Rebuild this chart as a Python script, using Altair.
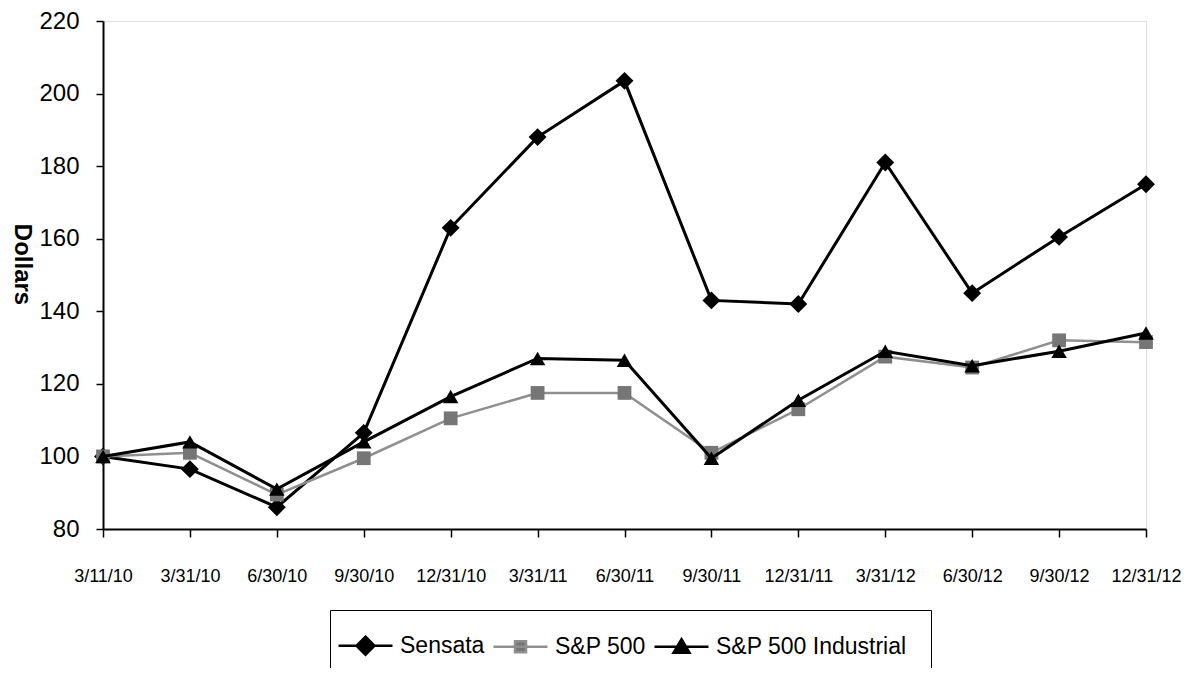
import altair as alt
import pandas as pd

dates = ["3/11/10", "3/31/10", "6/30/10", "9/30/10", "12/31/10", "3/31/11", "6/30/11",
         "9/30/11", "12/31/11", "3/31/12", "6/30/12", "9/30/12", "12/31/12"]
series_names = ["Sensata", "S&P 500", "S&P 500 Industrial"]
sensata = [100, 96.5, 86, 106.5, 163, 188, 203.5, 143, 142, 181, 145, 160.5, 175]
sp500 = [100, 101, 89.5, 99.5, 110.5, 117.5, 117.5, 101, 113, 127.5, 124.5, 132, 131.5]
sp500_ind = [100, 104, 91, 104, 116.5, 127, 126.5, 99.5, 115.5, 129, 125, 129, 134]
y_ticks = [80, 100, 120, 140, 160, 180, 200, 220]

values = {"Sensata": sensata, "S&P 500": sp500, "S&P 500 Industrial": sp500_ind}
rows = []
for s in series_names:
    for d, v in zip(dates, values[s]):
        rows.append({"date": d, "value": v, "series": s})
df = pd.DataFrame(rows)

FONT = "Liberation Sans"

x_enc = alt.X("date:N", sort=dates,
              scale=alt.Scale(type="point", padding=0, domain=dates),
              axis=alt.Axis(title=None, labelAngle=0, labelFontSize=18, labelPadding=30,
                            tickSize=8, tickWidth=1.5, tickColor="black",
                            domainColor="black", domainWidth=2, labelColor="black",
                            labelOverlap=False, grid=False, labelFont=FONT))
y_enc = alt.Y("value:Q", scale=alt.Scale(domain=[80, 220], nice=False, zero=False),
              axis=alt.Axis(values=y_ticks, title="Dollars", titleFontSize=24,
                            titleFontWeight="bold", titleAngle=90, titleX=-82, titleY=243,
                            titleAlign="center", titleBaseline="middle", titleColor="black",
                            labelFontSize=24, labelPadding=17, tickSize=7, tickWidth=1.5,
                            tickColor="black", domainColor="black", domainWidth=2,
                            labelColor="black", grid=False, labelFont=FONT, titleFont=FONT))

line_style = {
    "Sensata": {"color": "black", "strokeWidth": 3},
    "S&P 500": {"color": "#8f8f8f", "strokeWidth": 2.5},
    "S&P 500 Industrial": {"color": "black", "strokeWidth": 3},
}
point_style = {
    "Sensata": {"shape": "diamond", "color": "black", "size": 320},
    "S&P 500": {"shape": "square", "color": "#767676", "size": 190},
    "S&P 500 Industrial": {"shape": "triangle-up", "color": "black", "size": 240},
}

layers = []
for s in series_names:
    base = alt.Chart(df).transform_filter(alt.datum.series == s)
    layers.append(base.mark_line(color=line_style[s]["color"],
                                 strokeWidth=line_style[s]["strokeWidth"]).encode(x=x_enc, y=y_enc))
    layers.append(base.mark_point(filled=True, opacity=1, shape=point_style[s]["shape"],
                                  color=point_style[s]["color"],
                                  size=point_style[s]["size"]).encode(x=x_enc, y=y_enc))

legend_paths = [
    "M-2.7,0H2.7M0,-0.9L0.9,0L0,0.9L-0.9,0Z",
    "M-2.7,0H2.7M-0.55,-0.55H0.55V0.55H-0.55Z",
    "M-2.7,0H2.7M0,-0.75L0.8,0.6L-0.8,0.6Z",
]
legend_fill = ["black", "#767676", "black"]
legend_stroke = ["black", "#8f8f8f", "black"]

leg = alt.Legend(title=None, orient="none", legendX=227, legendY=589, direction="horizontal",
                 columns=3, labelFontSize=23, labelFont=FONT, labelColor="black",
                 symbolSize=400, symbolStrokeWidth=2.5, labelOffset=23, columnPadding=3,
                 padding=24, strokeColor="black", labelLimit=400)

legend_layer = alt.Chart(df).transform_filter("datum.value > 100000").mark_point(
    filled=True, opacity=1).encode(
    x=x_enc, y=y_enc,
    fill=alt.Fill("series:N", scale=alt.Scale(domain=series_names, range=legend_fill), legend=leg),
    stroke=alt.Stroke("series:N", scale=alt.Scale(domain=series_names, range=legend_stroke), legend=leg),
    shape=alt.Shape("series:N", scale=alt.Scale(domain=series_names, range=legend_paths), legend=leg),
)

chart = alt.layer(*layers, legend_layer).properties(
    width=1043, height=508,
    autosize=alt.AutoSizeParams(type="none"),
    padding={"left": 95, "top": 13, "right": 36, "bottom": 139},
).configure_view(stroke="black", strokeWidth=2).configure(font=FONT, background="white")

chart.save("out.html", embed_options={"renderer": "svg", "actions": False})
